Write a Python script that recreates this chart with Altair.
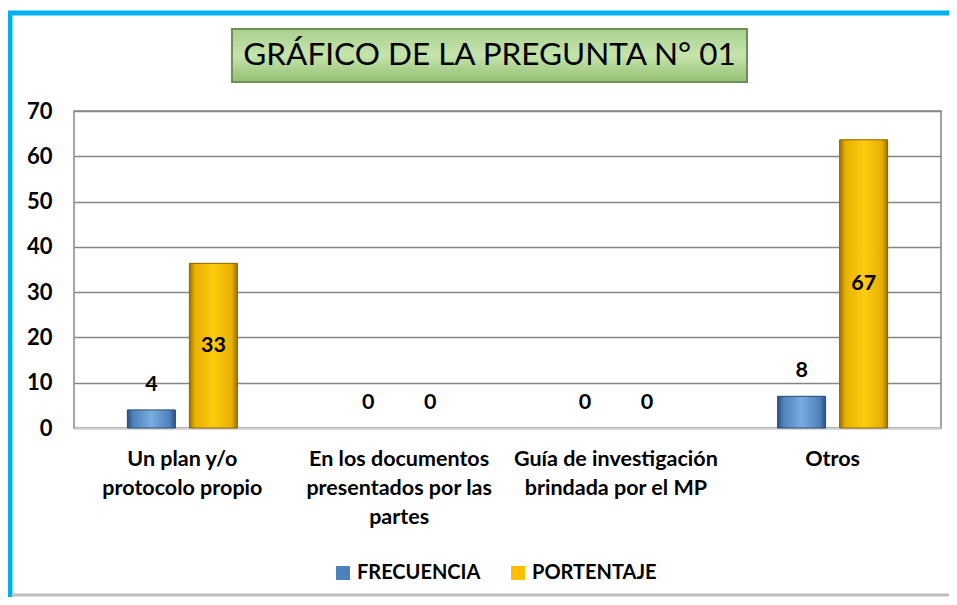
import altair as alt
import pandas as pd

# ---------------- data ----------------
category_lines = [
    ["Un plan y/o", "protocolo propio"],
    ["En los documentos", "presentados por las", "partes"],
    ["Guía de investigación", "brindada por el MP"],
    ["Otros"],
]
categories = ["|".join(c) for c in category_lines]
series = ["FRECUENCIA", "PORTENTAJE"]
frecuencia = [4, 0, 0, 7]
porcentaje = [36.36, 0, 0, 63.64]
frecuencia_labels = ["4", "0", "0", "8"]
porcentaje_labels = ["33", "0", "0", "67"]
title_text = "GRÁFICO DE LA PREGUNTA N° 01"
y_ticks = [0, 10, 20, 30, 40, 50, 60, 70]

rows = []
for i, c in enumerate(categories):
    rows.append({"cat": c, "serie": series[0], "valor": frecuencia[i], "etiqueta": frecuencia_labels[i]})
    rows.append({"cat": c, "serie": series[1], "valor": porcentaje[i], "etiqueta": porcentaje_labels[i]})
df = pd.DataFrame(rows)

# ---------------- styling ----------------
FONT = "Lato"
W, H = 867, 317
PAD_L, PAD_T, PAD_R = 66, 103, 8
PAD_B = 589 - PAD_T - H

blue = "#4f81bd"
gold = "#ffc000"

x_enc = alt.X(
    "cat:N",
    sort=categories,
    scale=alt.Scale(domain=categories, paddingInner=0, paddingOuter=0),
    axis=alt.Axis(
        title=None, labelAngle=0, labelExpr="split(datum.value, '|')",
        labelBaseline="top", labelPadding=20, labelLineHeight=29,
        tickSize=0, domainColor="#d0d0d0", domainWidth=2,
        labelFont=FONT, labelFontWeight="bold", labelFontSize=21.5,
        labelColor="#000000", labelLimit=400, grid=False,
    ),
)
xoff_enc = alt.XOffset(
    "serie:N", sort=series,
    scale=alt.Scale(domain=series, paddingInner=0.226, paddingOuter=0.861),
)
y_enc = alt.Y(
    "valor:Q",
    scale=alt.Scale(domain=[0, 70], nice=False, zero=True),
    axis=alt.Axis(
        title=None, values=y_ticks, grid=True, gridColor="#868686",
        gridWidth=1.5, tickSize=0, domain=False, labelPadding=22,
        labelFont=FONT, labelFontWeight="bold", labelFontSize=22,
        labelColor="#000000",
    ),
)

base = alt.Chart(df).encode(x=x_enc, xOffset=xoff_enc)

bars = base.mark_bar().encode(
    y=y_enc,
    color=alt.Color(
        "serie:N", sort=series,
        scale=alt.Scale(domain=series, range=[blue, gold]),
        legend=alt.Legend(
            orient="none", legendX=259, legendY=452, direction="horizontal",
            title=None, symbolType="square", symbolSize=196,
            symbolStrokeWidth=0, labelFont=FONT, labelFontWeight="bold",
            labelFontSize=20, labelColor="#000000", labelOffset=4,
            columnPadding=27,
        ),
    ),
)


def grad(dark, mid, light):
    return alt.Gradient(
        gradient="linear", x1=0, x2=1, y1=0, y2=0,
        stops=[
            alt.GradientStop(offset=0, color=dark),
            alt.GradientStop(offset=0.12, color=mid),
            alt.GradientStop(offset=0.5, color=light),
            alt.GradientStop(offset=0.88, color=mid),
            alt.GradientStop(offset=1, color=dark),
        ],
    )


blue_bars = base.transform_filter(
    (alt.datum.serie == series[0]) & (alt.datum.valor > 0)
).mark_bar(
    fill=grad("#2c5380", "#4f81bd", "#79acdf"), stroke="#2c4d73", strokeWidth=1
).encode(y="valor:Q")
gold_bars = base.transform_filter(
    (alt.datum.serie == series[1]) & (alt.datum.valor > 0)
).mark_bar(
    fill=grad("#9a7200", "#e8b000", "#ffcc10"), stroke="#8a6500", strokeWidth=1
).encode(y="valor:Q")

text_style = dict(font=FONT, fontWeight="bold", fontSize=21.5, color="#000000", baseline="middle")

labels_above = base.transform_filter(
    (alt.datum.serie == series[0]) | (alt.datum.valor == 0)
).mark_text(dy=-25, **text_style).encode(y="valor:Q", text="etiqueta:N")

labels_mid = base.transform_filter(
    (alt.datum.serie == series[1]) & (alt.datum.valor > 0)
).transform_calculate(mid="datum.valor / 2").mark_text(**text_style).encode(
    y="mid:Q", text="etiqueta:N"
)

# ---------------- decorations (frame + title box) ----------------
one = alt.Data(values=[{}])

frame_top = alt.Chart(one).mark_rule(color="#00b0f0", strokeWidth=5).encode(
    x=alt.value(-67), x2=alt.value(W + PAD_R), y=alt.value(-98)
)
frame_left = alt.Chart(one).mark_rule(color="#00b0f0", strokeWidth=5).encode(
    x=alt.value(-64), y=alt.value(-100), y2=alt.value(H + PAD_B)
)
frame_bottom = alt.Chart(one).mark_rule(color="#bdbdbd", strokeWidth=3).encode(
    x=alt.value(-62), x2=alt.value(W + PAD_R), y=alt.value(H + PAD_B - 2)
)

title_box = alt.Chart(one).mark_rect(
    fill=alt.Gradient(
        gradient="linear", x1=0, x2=0, y1=0, y2=1,
        stops=[
            alt.GradientStop(offset=0, color="#a9d08e"),
            alt.GradientStop(offset=0.5, color="#c6e4ad"),
            alt.GradientStop(offset=1, color="#93bf72"),
        ],
    ),
    stroke="#6e8f55", strokeWidth=2,
).encode(
    x=alt.value(158), x2=alt.value(673), y=alt.value(-82), y2=alt.value(-29)
)
title = alt.Chart(one).mark_text(
    text=title_text, font=FONT, fontSize=31.5, color="#000000",
    align="center", baseline="middle",
).encode(x=alt.value(415.5), y=alt.value(-55))

chart = alt.layer(
    bars, blue_bars, gold_bars, labels_above, labels_mid,
    frame_top, frame_left, frame_bottom, title_box, title,
).properties(
    width=W, height=H,
    autosize=alt.AutoSizeParams(type="none"),
    padding={"left": PAD_L, "top": PAD_T, "right": PAD_R, "bottom": PAD_B},
    background="#ffffff",
).configure_view(stroke="#868686", strokeWidth=1.5)

chart.save("out.html", embed_options={"renderer": "svg", "actions": False})
